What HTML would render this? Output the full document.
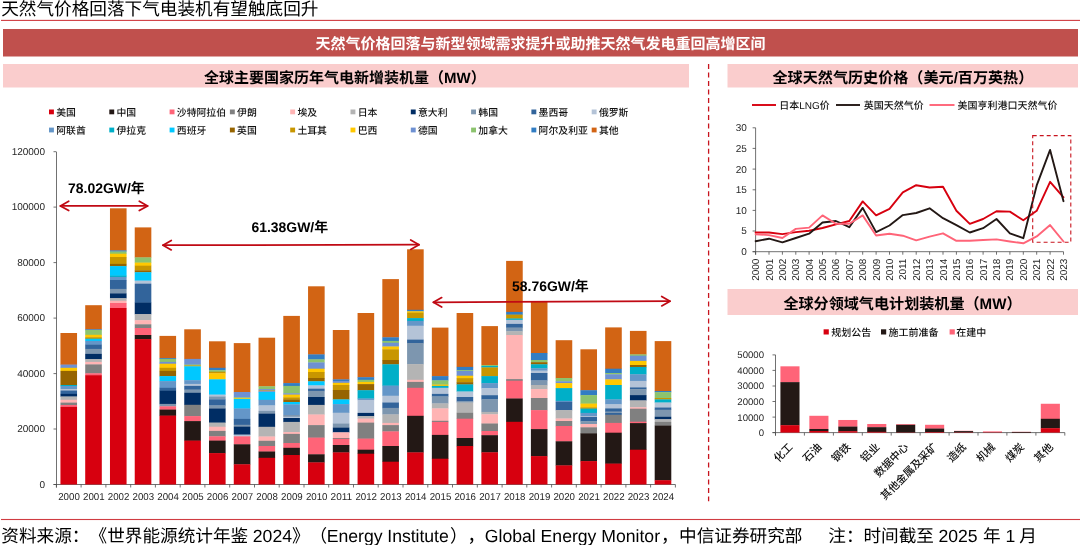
<!DOCTYPE html>
<html lang="zh"><head><meta charset="utf-8"><title>天然气价格回落下气电装机有望触底回升</title>
<style>html,body{margin:0;padding:0;background:#fff;width:1080px;height:545px;overflow:hidden}</style>
</head><body>
<svg width="1080" height="545" viewBox="0 0 1080 545" style="position:absolute;left:0;top:0;display:block;will-change:transform" text-rendering="geometricPrecision" font-family="Liberation Sans, Noto Sans CJK SC, sans-serif">
<rect x="1" y="19.85" width="1079" height="1.1" fill="#D03C42"/>
<rect x="3" y="29" width="1075" height="27.5" fill="#C0504D"/>
<rect x="3" y="64" width="686" height="23.5" fill="#FACDCD"/>
<rect x="727.5" y="64" width="350.5" height="23.5" fill="#FACDCD"/>
<rect x="727.5" y="289" width="350.5" height="26" fill="#FACDCD"/>
<rect x="1" y="518.95" width="1079" height="1.1" fill="#D03C42"/>
<line x1="708.6" y1="64.1" x2="708.6" y2="501.3" stroke="#C8141E" stroke-width="1.3" stroke-dasharray="5 3.476"/>
<text x="1.2" y="15" font-size="17.64" fill="#000">天然气价格回落下气电装机有望触底回升</text>
<text x="540.5" y="49.4" font-size="15" font-weight="bold" fill="#fff" text-anchor="middle">天然气价格回落与新型领域需求提升或助推天然气发电重回高增区间</text>
<text x="344.9" y="83" font-size="15" font-weight="bold" fill="#000" text-anchor="middle">全球主要国家历年气电新增装机量（MW）</text>
<text x="902.9" y="83" font-size="15.1" font-weight="bold" fill="#000" text-anchor="middle">全球天然气历史价格（美元/百万英热）</text>
<text x="902.45" y="308.6" font-size="15.1" font-weight="bold" fill="#000" text-anchor="middle">全球分领域气电计划装机量（MW）</text>
<g font-size="17.64" fill="#000" style="text-spacing-trim:space-all">
<text x="1.3" y="541.9">资料来源：</text>
<text x="89.5" y="541.9">《世界能源统计年鉴</text>
<text x="252.8" y="541.9">2024</text>
<text x="292.0" y="541.9">》</text>
<text x="309.4" y="541.9">（</text>
<text x="326.8" y="541.9" textLength="122">Energy Institute</text>
<text x="450.0" y="541.9">）</text>
<text x="467.4" y="541.9">，</text>
<text x="484.8" y="541.9" textLength="175.2">Global Energy Monitor</text>
<text x="661.0" y="541.9">，</text>
<text x="679.0" y="541.9">中信证券研究部</text>
<text x="828.3" y="541.9">注：</text>
<text x="863.4" y="541.9">时间截至</text>
<text x="938.4" y="541.9">2025</text>
<text x="983.0" y="541.9">年</text>
<text x="1005.5" y="541.9">1</text>
<text x="1019.3" y="541.9">月</text>
</g>
<rect x="49.0" y="109.5" width="4.9" height="4.8" fill="#D7000F"/>
<text x="56.2" y="115.6" font-size="9.85" font-weight="500" fill="#111">美国</text>
<rect x="109.3" y="109.5" width="4.9" height="4.8" fill="#231815"/>
<text x="116.5" y="115.6" font-size="9.85" font-weight="500" fill="#111">中国</text>
<rect x="169.6" y="109.5" width="4.9" height="4.8" fill="#FF6478"/>
<text x="176.8" y="115.6" font-size="9.85" font-weight="500" fill="#111">沙特阿拉伯</text>
<rect x="229.9" y="109.5" width="4.9" height="4.8" fill="#808080"/>
<text x="237.1" y="115.6" font-size="9.85" font-weight="500" fill="#111">伊朗</text>
<rect x="290.2" y="109.5" width="4.9" height="4.8" fill="#FFB4B4"/>
<text x="297.4" y="115.6" font-size="9.85" font-weight="500" fill="#111">埃及</text>
<rect x="350.5" y="109.5" width="4.9" height="4.8" fill="#B4B4B4"/>
<text x="357.7" y="115.6" font-size="9.85" font-weight="500" fill="#111">日本</text>
<rect x="410.8" y="109.5" width="4.9" height="4.8" fill="#002D64"/>
<text x="418.0" y="115.6" font-size="9.85" font-weight="500" fill="#111">意大利</text>
<rect x="471.1" y="109.5" width="4.9" height="4.8" fill="#7D96AF"/>
<text x="478.3" y="115.6" font-size="9.85" font-weight="500" fill="#111">韩国</text>
<rect x="531.4" y="109.5" width="4.9" height="4.8" fill="#32649B"/>
<text x="538.6" y="115.6" font-size="9.85" font-weight="500" fill="#111">墨西哥</text>
<rect x="591.7" y="109.5" width="4.9" height="4.8" fill="#B4C3D7"/>
<text x="598.9" y="115.6" font-size="9.85" font-weight="500" fill="#111">俄罗斯</text>
<rect x="49.0" y="127.6" width="4.9" height="4.8" fill="#6496C8"/>
<text x="56.2" y="133.7" font-size="9.85" font-weight="500" fill="#111">阿联酋</text>
<rect x="109.3" y="127.6" width="4.9" height="4.8" fill="#00AFC8"/>
<text x="116.5" y="133.7" font-size="9.85" font-weight="500" fill="#111">伊拉克</text>
<rect x="169.6" y="127.6" width="4.9" height="4.8" fill="#00C8FF"/>
<text x="176.8" y="133.7" font-size="9.85" font-weight="500" fill="#111">西班牙</text>
<rect x="229.9" y="127.6" width="4.9" height="4.8" fill="#966400"/>
<text x="237.1" y="133.7" font-size="9.85" font-weight="500" fill="#111">英国</text>
<rect x="290.2" y="127.6" width="4.9" height="4.8" fill="#C89600"/>
<text x="297.4" y="133.7" font-size="9.85" font-weight="500" fill="#111">土耳其</text>
<rect x="350.5" y="127.6" width="4.9" height="4.8" fill="#FFC800"/>
<text x="357.7" y="133.7" font-size="9.85" font-weight="500" fill="#111">巴西</text>
<rect x="410.8" y="127.6" width="4.9" height="4.8" fill="#6E91D2"/>
<text x="418.0" y="133.7" font-size="9.85" font-weight="500" fill="#111">德国</text>
<rect x="471.1" y="127.6" width="4.9" height="4.8" fill="#8CC36E"/>
<text x="478.3" y="133.7" font-size="9.85" font-weight="500" fill="#111">加拿大</text>
<rect x="531.4" y="127.6" width="4.9" height="4.8" fill="#327DC3"/>
<text x="538.6" y="133.7" font-size="9.85" font-weight="500" fill="#111">阿尔及利亚</text>
<rect x="591.7" y="127.6" width="4.9" height="4.8" fill="#D26414"/>
<text x="598.9" y="133.7" font-size="9.85" font-weight="500" fill="#111">其他</text>
<g stroke="#4d4d4d" stroke-width="0.8" fill="none">
<line x1="56.5" y1="152" x2="56.5" y2="487.5"/>
<line x1="53.5" y1="484.5" x2="675.4" y2="484.5"/>
<line x1="53.5" y1="484.5" x2="56.5" y2="484.5"/>
<line x1="53.5" y1="429.0" x2="56.5" y2="429.0"/>
<line x1="53.5" y1="373.6" x2="56.5" y2="373.6"/>
<line x1="53.5" y1="318.1" x2="56.5" y2="318.1"/>
<line x1="53.5" y1="262.6" x2="56.5" y2="262.6"/>
<line x1="53.5" y1="207.1" x2="56.5" y2="207.1"/>
<line x1="53.5" y1="151.7" x2="56.5" y2="151.7"/>
<line x1="56.4" y1="484.5" x2="56.4" y2="487.5"/>
<line x1="81.1" y1="484.5" x2="81.1" y2="487.5"/>
<line x1="105.9" y1="484.5" x2="105.9" y2="487.5"/>
<line x1="130.7" y1="484.5" x2="130.7" y2="487.5"/>
<line x1="155.4" y1="484.5" x2="155.4" y2="487.5"/>
<line x1="180.2" y1="484.5" x2="180.2" y2="487.5"/>
<line x1="204.9" y1="484.5" x2="204.9" y2="487.5"/>
<line x1="229.7" y1="484.5" x2="229.7" y2="487.5"/>
<line x1="254.5" y1="484.5" x2="254.5" y2="487.5"/>
<line x1="279.2" y1="484.5" x2="279.2" y2="487.5"/>
<line x1="304.0" y1="484.5" x2="304.0" y2="487.5"/>
<line x1="328.7" y1="484.5" x2="328.7" y2="487.5"/>
<line x1="353.5" y1="484.5" x2="353.5" y2="487.5"/>
<line x1="378.2" y1="484.5" x2="378.2" y2="487.5"/>
<line x1="403.0" y1="484.5" x2="403.0" y2="487.5"/>
<line x1="427.8" y1="484.5" x2="427.8" y2="487.5"/>
<line x1="452.5" y1="484.5" x2="452.5" y2="487.5"/>
<line x1="477.3" y1="484.5" x2="477.3" y2="487.5"/>
<line x1="502.1" y1="484.5" x2="502.1" y2="487.5"/>
<line x1="526.8" y1="484.5" x2="526.8" y2="487.5"/>
<line x1="551.6" y1="484.5" x2="551.6" y2="487.5"/>
<line x1="576.3" y1="484.5" x2="576.3" y2="487.5"/>
<line x1="601.1" y1="484.5" x2="601.1" y2="487.5"/>
<line x1="625.9" y1="484.5" x2="625.9" y2="487.5"/>
<line x1="650.6" y1="484.5" x2="650.6" y2="487.5"/>
<line x1="675.4" y1="484.5" x2="675.4" y2="487.5"/>
</g>
<g font-size="10" fill="#262626">
<text x="45" y="487.5" text-anchor="end">0</text>
<text x="45" y="432.0" text-anchor="end">20000</text>
<text x="45" y="376.6" text-anchor="end">40000</text>
<text x="45" y="321.1" text-anchor="end">60000</text>
<text x="45" y="265.6" text-anchor="end">80000</text>
<text x="45" y="210.1" text-anchor="end">100000</text>
<text x="45" y="154.7" text-anchor="end">120000</text>
<text x="69.0" y="500.4" text-anchor="middle" textLength="21.6" lengthAdjust="spacingAndGlyphs">2000</text>
<text x="93.8" y="500.4" text-anchor="middle" textLength="21.6" lengthAdjust="spacingAndGlyphs">2001</text>
<text x="118.6" y="500.4" text-anchor="middle" textLength="21.6" lengthAdjust="spacingAndGlyphs">2002</text>
<text x="143.3" y="500.4" text-anchor="middle" textLength="21.6" lengthAdjust="spacingAndGlyphs">2003</text>
<text x="168.1" y="500.4" text-anchor="middle" textLength="21.6" lengthAdjust="spacingAndGlyphs">2004</text>
<text x="192.9" y="500.4" text-anchor="middle" textLength="21.6" lengthAdjust="spacingAndGlyphs">2005</text>
<text x="217.6" y="500.4" text-anchor="middle" textLength="21.6" lengthAdjust="spacingAndGlyphs">2006</text>
<text x="242.4" y="500.4" text-anchor="middle" textLength="21.6" lengthAdjust="spacingAndGlyphs">2007</text>
<text x="267.1" y="500.4" text-anchor="middle" textLength="21.6" lengthAdjust="spacingAndGlyphs">2008</text>
<text x="291.9" y="500.4" text-anchor="middle" textLength="21.6" lengthAdjust="spacingAndGlyphs">2009</text>
<text x="316.7" y="500.4" text-anchor="middle" textLength="21.6" lengthAdjust="spacingAndGlyphs">2010</text>
<text x="341.4" y="500.4" text-anchor="middle" textLength="21.6" lengthAdjust="spacingAndGlyphs">2011</text>
<text x="366.2" y="500.4" text-anchor="middle" textLength="21.6" lengthAdjust="spacingAndGlyphs">2012</text>
<text x="390.9" y="500.4" text-anchor="middle" textLength="21.6" lengthAdjust="spacingAndGlyphs">2013</text>
<text x="415.7" y="500.4" text-anchor="middle" textLength="21.6" lengthAdjust="spacingAndGlyphs">2014</text>
<text x="440.5" y="500.4" text-anchor="middle" textLength="21.6" lengthAdjust="spacingAndGlyphs">2015</text>
<text x="465.2" y="500.4" text-anchor="middle" textLength="21.6" lengthAdjust="spacingAndGlyphs">2016</text>
<text x="490.0" y="500.4" text-anchor="middle" textLength="21.6" lengthAdjust="spacingAndGlyphs">2017</text>
<text x="514.7" y="500.4" text-anchor="middle" textLength="21.6" lengthAdjust="spacingAndGlyphs">2018</text>
<text x="539.5" y="500.4" text-anchor="middle" textLength="21.6" lengthAdjust="spacingAndGlyphs">2019</text>
<text x="564.2" y="500.4" text-anchor="middle" textLength="21.6" lengthAdjust="spacingAndGlyphs">2020</text>
<text x="589.0" y="500.4" text-anchor="middle" textLength="21.6" lengthAdjust="spacingAndGlyphs">2021</text>
<text x="613.8" y="500.4" text-anchor="middle" textLength="21.6" lengthAdjust="spacingAndGlyphs">2022</text>
<text x="638.5" y="500.4" text-anchor="middle" textLength="21.6" lengthAdjust="spacingAndGlyphs">2023</text>
<text x="663.3" y="500.4" text-anchor="middle" textLength="21.6" lengthAdjust="spacingAndGlyphs">2024</text>
</g>
<g shape-rendering="auto">
<rect x="60.45" y="333.00" width="16.60" height="31.90" fill="#D26414"/>
<rect x="60.45" y="364.60" width="16.60" height="3.50" fill="#6E91D2"/>
<rect x="60.45" y="367.80" width="16.60" height="3.40" fill="#FFC800"/>
<rect x="60.45" y="370.90" width="16.60" height="14.40" fill="#966400"/>
<rect x="60.45" y="385.00" width="16.60" height="1.30" fill="#00AFC8"/>
<rect x="60.45" y="386.00" width="16.60" height="3.30" fill="#6496C8"/>
<rect x="60.45" y="389.00" width="16.60" height="1.80" fill="#B4C3D7"/>
<rect x="60.45" y="390.50" width="16.60" height="3.70" fill="#32649B"/>
<rect x="60.45" y="393.90" width="16.60" height="2.90" fill="#002D64"/>
<rect x="60.45" y="396.50" width="16.60" height="3.60" fill="#B4B4B4"/>
<rect x="60.45" y="399.80" width="16.60" height="3.10" fill="#FFB4B4"/>
<rect x="60.45" y="402.60" width="16.60" height="2.70" fill="#808080"/>
<rect x="60.45" y="405.00" width="16.60" height="2.20" fill="#FF6478"/>
<rect x="60.45" y="406.90" width="16.60" height="77.60" fill="#D7000F"/>
<rect x="85.21" y="305.20" width="16.60" height="24.40" fill="#D26414"/>
<rect x="85.21" y="329.30" width="16.60" height="1.00" fill="#327DC3"/>
<rect x="85.21" y="330.00" width="16.60" height="5.10" fill="#8CC36E"/>
<rect x="85.21" y="334.80" width="16.60" height="2.70" fill="#FFC800"/>
<rect x="85.21" y="337.20" width="16.60" height="1.80" fill="#C89600"/>
<rect x="85.21" y="338.70" width="16.60" height="2.50" fill="#00C8FF"/>
<rect x="85.21" y="340.90" width="16.60" height="4.00" fill="#6496C8"/>
<rect x="85.21" y="344.60" width="16.60" height="4.60" fill="#32649B"/>
<rect x="85.21" y="348.90" width="16.60" height="5.30" fill="#7D96AF"/>
<rect x="85.21" y="353.90" width="16.60" height="5.50" fill="#002D64"/>
<rect x="85.21" y="359.10" width="16.60" height="3.10" fill="#B4B4B4"/>
<rect x="85.21" y="361.90" width="16.60" height="2.80" fill="#FFB4B4"/>
<rect x="85.21" y="364.40" width="16.60" height="9.20" fill="#808080"/>
<rect x="85.21" y="373.30" width="16.60" height="2.20" fill="#FF6478"/>
<rect x="85.21" y="375.20" width="16.60" height="109.30" fill="#D7000F"/>
<rect x="109.97" y="208.30" width="16.60" height="42.40" fill="#D26414"/>
<rect x="109.97" y="250.40" width="16.60" height="1.40" fill="#327DC3"/>
<rect x="109.97" y="251.50" width="16.60" height="2.50" fill="#8CC36E"/>
<rect x="109.97" y="253.70" width="16.60" height="3.60" fill="#FFC800"/>
<rect x="109.97" y="257.00" width="16.60" height="7.20" fill="#C89600"/>
<rect x="109.97" y="263.90" width="16.60" height="2.50" fill="#966400"/>
<rect x="109.97" y="266.10" width="16.60" height="9.80" fill="#00C8FF"/>
<rect x="109.97" y="275.60" width="16.60" height="1.60" fill="#00AFC8"/>
<rect x="109.97" y="276.90" width="16.60" height="3.40" fill="#6496C8"/>
<rect x="109.97" y="280.00" width="16.60" height="9.20" fill="#32649B"/>
<rect x="109.97" y="288.90" width="16.60" height="4.80" fill="#7D96AF"/>
<rect x="109.97" y="293.40" width="16.60" height="5.10" fill="#002D64"/>
<rect x="109.97" y="298.20" width="16.60" height="2.80" fill="#B4B4B4"/>
<rect x="109.97" y="300.70" width="16.60" height="2.60" fill="#FFB4B4"/>
<rect x="109.97" y="303.00" width="16.60" height="5.30" fill="#FF6478"/>
<rect x="109.97" y="308.00" width="16.60" height="176.50" fill="#D7000F"/>
<rect x="134.73" y="227.40" width="16.60" height="30.30" fill="#D26414"/>
<rect x="134.73" y="257.40" width="16.60" height="5.50" fill="#8CC36E"/>
<rect x="134.73" y="262.60" width="16.60" height="3.40" fill="#FFC800"/>
<rect x="134.73" y="265.70" width="16.60" height="5.00" fill="#C89600"/>
<rect x="134.73" y="270.40" width="16.60" height="2.10" fill="#966400"/>
<rect x="134.73" y="272.20" width="16.60" height="8.70" fill="#00C8FF"/>
<rect x="134.73" y="280.60" width="16.60" height="3.40" fill="#B4C3D7"/>
<rect x="134.73" y="283.70" width="16.60" height="19.20" fill="#32649B"/>
<rect x="134.73" y="302.60" width="16.60" height="11.80" fill="#002D64"/>
<rect x="134.73" y="314.10" width="16.60" height="6.40" fill="#B4B4B4"/>
<rect x="134.73" y="320.20" width="16.60" height="4.40" fill="#FFB4B4"/>
<rect x="134.73" y="324.30" width="16.60" height="4.00" fill="#808080"/>
<rect x="134.73" y="328.00" width="16.60" height="7.30" fill="#FF6478"/>
<rect x="134.73" y="335.00" width="16.60" height="4.40" fill="#231815"/>
<rect x="134.73" y="339.10" width="16.60" height="145.40" fill="#D7000F"/>
<rect x="159.49" y="335.90" width="16.60" height="22.50" fill="#D26414"/>
<rect x="159.49" y="358.10" width="16.60" height="1.10" fill="#327DC3"/>
<rect x="159.49" y="358.90" width="16.60" height="3.30" fill="#8CC36E"/>
<rect x="159.49" y="361.90" width="16.60" height="2.10" fill="#6E91D2"/>
<rect x="159.49" y="363.70" width="16.60" height="4.40" fill="#FFC800"/>
<rect x="159.49" y="367.80" width="16.60" height="3.40" fill="#C89600"/>
<rect x="159.49" y="370.90" width="16.60" height="5.50" fill="#966400"/>
<rect x="159.49" y="376.10" width="16.60" height="5.30" fill="#00C8FF"/>
<rect x="159.49" y="381.10" width="16.60" height="7.00" fill="#6496C8"/>
<rect x="159.49" y="387.80" width="16.60" height="3.10" fill="#32649B"/>
<rect x="159.49" y="390.60" width="16.60" height="13.60" fill="#002D64"/>
<rect x="159.49" y="403.90" width="16.60" height="2.70" fill="#7D96AF"/>
<rect x="159.49" y="406.30" width="16.60" height="3.60" fill="#FF6478"/>
<rect x="159.49" y="409.60" width="16.60" height="6.30" fill="#231815"/>
<rect x="159.49" y="415.60" width="16.60" height="68.90" fill="#D7000F"/>
<rect x="184.25" y="329.30" width="16.60" height="29.90" fill="#D26414"/>
<rect x="184.25" y="358.90" width="16.60" height="6.00" fill="#6E91D2"/>
<rect x="184.25" y="364.60" width="16.60" height="1.20" fill="#8CC36E"/>
<rect x="184.25" y="365.50" width="16.60" height="1.10" fill="#C89600"/>
<rect x="184.25" y="366.30" width="16.60" height="14.20" fill="#00C8FF"/>
<rect x="184.25" y="380.20" width="16.60" height="4.00" fill="#6496C8"/>
<rect x="184.25" y="383.90" width="16.60" height="2.30" fill="#B4C3D7"/>
<rect x="184.25" y="385.90" width="16.60" height="4.00" fill="#32649B"/>
<rect x="184.25" y="389.60" width="16.60" height="3.50" fill="#7D96AF"/>
<rect x="184.25" y="392.80" width="16.60" height="12.30" fill="#002D64"/>
<rect x="184.25" y="404.80" width="16.60" height="11.60" fill="#808080"/>
<rect x="184.25" y="416.10" width="16.60" height="5.30" fill="#FF6478"/>
<rect x="184.25" y="421.10" width="16.60" height="19.80" fill="#231815"/>
<rect x="184.25" y="440.60" width="16.60" height="43.90" fill="#D7000F"/>
<rect x="209.01" y="341.30" width="16.60" height="26.80" fill="#D26414"/>
<rect x="209.01" y="367.80" width="16.60" height="2.70" fill="#327DC3"/>
<rect x="209.01" y="370.20" width="16.60" height="1.80" fill="#8CC36E"/>
<rect x="209.01" y="371.70" width="16.60" height="1.90" fill="#C89600"/>
<rect x="209.01" y="373.30" width="16.60" height="6.30" fill="#FFC800"/>
<rect x="209.01" y="379.30" width="16.60" height="15.60" fill="#00C8FF"/>
<rect x="209.01" y="394.60" width="16.60" height="2.20" fill="#B4C3D7"/>
<rect x="209.01" y="396.50" width="16.60" height="3.20" fill="#7D96AF"/>
<rect x="209.01" y="399.40" width="16.60" height="6.30" fill="#32649B"/>
<rect x="209.01" y="405.40" width="16.60" height="3.40" fill="#7D96AF"/>
<rect x="209.01" y="408.50" width="16.60" height="14.40" fill="#002D64"/>
<rect x="209.01" y="422.60" width="16.60" height="4.40" fill="#B4B4B4"/>
<rect x="209.01" y="426.70" width="16.60" height="4.50" fill="#FFB4B4"/>
<rect x="209.01" y="430.90" width="16.60" height="5.70" fill="#808080"/>
<rect x="209.01" y="436.30" width="16.60" height="4.60" fill="#FF6478"/>
<rect x="209.01" y="440.60" width="16.60" height="12.80" fill="#231815"/>
<rect x="209.01" y="453.10" width="16.60" height="31.40" fill="#D7000F"/>
<rect x="233.77" y="343.10" width="16.60" height="49.20" fill="#D26414"/>
<rect x="233.77" y="392.00" width="16.60" height="5.70" fill="#6E91D2"/>
<rect x="233.77" y="397.40" width="16.60" height="1.10" fill="#8CC36E"/>
<rect x="233.77" y="398.20" width="16.60" height="1.00" fill="#FFC800"/>
<rect x="233.77" y="398.90" width="16.60" height="9.90" fill="#00C8FF"/>
<rect x="233.77" y="408.50" width="16.60" height="10.70" fill="#6496C8"/>
<rect x="233.77" y="418.90" width="16.60" height="6.20" fill="#32649B"/>
<rect x="233.77" y="424.80" width="16.60" height="2.20" fill="#7D96AF"/>
<rect x="233.77" y="426.70" width="16.60" height="8.20" fill="#002D64"/>
<rect x="233.77" y="434.60" width="16.60" height="2.00" fill="#B4C3D7"/>
<rect x="233.77" y="436.30" width="16.60" height="8.30" fill="#FF6478"/>
<rect x="233.77" y="444.30" width="16.60" height="20.30" fill="#231815"/>
<rect x="233.77" y="464.30" width="16.60" height="20.20" fill="#D7000F"/>
<rect x="258.53" y="337.70" width="16.60" height="48.90" fill="#D26414"/>
<rect x="258.53" y="386.30" width="16.60" height="3.10" fill="#8CC36E"/>
<rect x="258.53" y="389.10" width="16.60" height="1.70" fill="#6E91D2"/>
<rect x="258.53" y="390.50" width="16.60" height="1.00" fill="#C89600"/>
<rect x="258.53" y="391.20" width="16.60" height="1.10" fill="#6E91D2"/>
<rect x="258.53" y="392.00" width="16.60" height="8.10" fill="#00C8FF"/>
<rect x="258.53" y="399.80" width="16.60" height="5.90" fill="#6496C8"/>
<rect x="258.53" y="405.40" width="16.60" height="5.80" fill="#B4C3D7"/>
<rect x="258.53" y="410.90" width="16.60" height="3.10" fill="#7D96AF"/>
<rect x="258.53" y="413.70" width="16.60" height="13.40" fill="#002D64"/>
<rect x="258.53" y="426.80" width="16.60" height="10.00" fill="#B4B4B4"/>
<rect x="258.53" y="436.50" width="16.60" height="4.60" fill="#FFB4B4"/>
<rect x="258.53" y="440.80" width="16.60" height="5.50" fill="#808080"/>
<rect x="258.53" y="446.00" width="16.60" height="5.80" fill="#FF6478"/>
<rect x="258.53" y="451.50" width="16.60" height="6.60" fill="#231815"/>
<rect x="258.53" y="457.80" width="16.60" height="26.70" fill="#D7000F"/>
<rect x="283.29" y="315.90" width="16.60" height="67.50" fill="#D26414"/>
<rect x="283.29" y="383.10" width="16.60" height="3.10" fill="#327DC3"/>
<rect x="283.29" y="385.90" width="16.60" height="7.70" fill="#8CC36E"/>
<rect x="283.29" y="393.30" width="16.60" height="1.60" fill="#6E91D2"/>
<rect x="283.29" y="394.60" width="16.60" height="3.10" fill="#FFC800"/>
<rect x="283.29" y="397.40" width="16.60" height="2.40" fill="#C89600"/>
<rect x="283.29" y="399.50" width="16.60" height="2.80" fill="#966400"/>
<rect x="283.29" y="402.00" width="16.60" height="2.70" fill="#00C8FF"/>
<rect x="283.29" y="404.40" width="16.60" height="10.90" fill="#6496C8"/>
<rect x="283.29" y="415.00" width="16.60" height="2.00" fill="#7D96AF"/>
<rect x="283.29" y="416.70" width="16.60" height="1.60" fill="#B4C3D7"/>
<rect x="283.29" y="418.00" width="16.60" height="4.20" fill="#002D64"/>
<rect x="283.29" y="421.90" width="16.60" height="10.50" fill="#B4B4B4"/>
<rect x="283.29" y="432.10" width="16.60" height="2.10" fill="#FFB4B4"/>
<rect x="283.29" y="433.90" width="16.60" height="9.40" fill="#808080"/>
<rect x="283.29" y="443.00" width="16.60" height="5.10" fill="#FF6478"/>
<rect x="283.29" y="447.80" width="16.60" height="7.50" fill="#231815"/>
<rect x="283.29" y="455.00" width="16.60" height="29.50" fill="#D7000F"/>
<rect x="308.05" y="286.30" width="16.60" height="68.40" fill="#D26414"/>
<rect x="308.05" y="354.40" width="16.60" height="5.30" fill="#327DC3"/>
<rect x="308.05" y="359.40" width="16.60" height="3.30" fill="#8CC36E"/>
<rect x="308.05" y="362.40" width="16.60" height="6.60" fill="#6E91D2"/>
<rect x="308.05" y="368.70" width="16.60" height="3.60" fill="#FFC800"/>
<rect x="308.05" y="372.00" width="16.60" height="6.30" fill="#C89600"/>
<rect x="308.05" y="378.00" width="16.60" height="3.60" fill="#966400"/>
<rect x="308.05" y="381.30" width="16.60" height="4.40" fill="#00C8FF"/>
<rect x="308.05" y="385.40" width="16.60" height="3.60" fill="#B4C3D7"/>
<rect x="308.05" y="388.70" width="16.60" height="2.50" fill="#32649B"/>
<rect x="308.05" y="390.90" width="16.60" height="6.40" fill="#7D96AF"/>
<rect x="308.05" y="397.00" width="16.60" height="8.20" fill="#002D64"/>
<rect x="308.05" y="404.90" width="16.60" height="9.90" fill="#B4B4B4"/>
<rect x="308.05" y="414.50" width="16.60" height="10.90" fill="#FFB4B4"/>
<rect x="308.05" y="425.10" width="16.60" height="12.80" fill="#808080"/>
<rect x="308.05" y="437.60" width="16.60" height="17.00" fill="#FF6478"/>
<rect x="308.05" y="454.30" width="16.60" height="8.40" fill="#231815"/>
<rect x="308.05" y="462.40" width="16.60" height="22.10" fill="#D7000F"/>
<rect x="332.81" y="330.00" width="16.60" height="49.70" fill="#D26414"/>
<rect x="332.81" y="379.40" width="16.60" height="1.90" fill="#327DC3"/>
<rect x="332.81" y="381.00" width="16.60" height="2.10" fill="#6E91D2"/>
<rect x="332.81" y="382.80" width="16.60" height="2.50" fill="#FFC800"/>
<rect x="332.81" y="385.00" width="16.60" height="5.30" fill="#C89600"/>
<rect x="332.81" y="390.00" width="16.60" height="9.70" fill="#966400"/>
<rect x="332.81" y="399.40" width="16.60" height="5.00" fill="#00C8FF"/>
<rect x="332.81" y="404.10" width="16.60" height="8.90" fill="#6496C8"/>
<rect x="332.81" y="412.70" width="16.60" height="11.10" fill="#B4C3D7"/>
<rect x="332.81" y="423.50" width="16.60" height="4.50" fill="#7D96AF"/>
<rect x="332.81" y="427.70" width="16.60" height="4.90" fill="#002D64"/>
<rect x="332.81" y="432.30" width="16.60" height="6.00" fill="#FFB4B4"/>
<rect x="332.81" y="438.00" width="16.60" height="1.10" fill="#808080"/>
<rect x="332.81" y="438.80" width="16.60" height="6.50" fill="#FF6478"/>
<rect x="332.81" y="445.00" width="16.60" height="7.70" fill="#231815"/>
<rect x="332.81" y="452.40" width="16.60" height="32.10" fill="#D7000F"/>
<rect x="357.57" y="313.00" width="16.60" height="64.50" fill="#D26414"/>
<rect x="357.57" y="377.20" width="16.60" height="2.90" fill="#327DC3"/>
<rect x="357.57" y="379.80" width="16.60" height="2.40" fill="#8CC36E"/>
<rect x="357.57" y="381.90" width="16.60" height="2.50" fill="#FFC800"/>
<rect x="357.57" y="384.10" width="16.60" height="6.40" fill="#966400"/>
<rect x="357.57" y="390.20" width="16.60" height="8.60" fill="#00AFC8"/>
<rect x="357.57" y="398.50" width="16.60" height="1.70" fill="#6496C8"/>
<rect x="357.57" y="399.90" width="16.60" height="13.30" fill="#B4C3D7"/>
<rect x="357.57" y="412.90" width="16.60" height="3.40" fill="#002D64"/>
<rect x="357.57" y="416.00" width="16.60" height="2.90" fill="#B4B4B4"/>
<rect x="357.57" y="418.60" width="16.60" height="4.30" fill="#FFB4B4"/>
<rect x="357.57" y="422.60" width="16.60" height="16.30" fill="#808080"/>
<rect x="357.57" y="438.60" width="16.60" height="11.40" fill="#FF6478"/>
<rect x="357.57" y="449.70" width="16.60" height="4.30" fill="#231815"/>
<rect x="357.57" y="453.70" width="16.60" height="30.80" fill="#D7000F"/>
<rect x="382.33" y="279.10" width="16.60" height="58.50" fill="#D26414"/>
<rect x="382.33" y="337.30" width="16.60" height="3.90" fill="#327DC3"/>
<rect x="382.33" y="340.90" width="16.60" height="2.20" fill="#8CC36E"/>
<rect x="382.33" y="342.80" width="16.60" height="4.00" fill="#6E91D2"/>
<rect x="382.33" y="346.50" width="16.60" height="3.10" fill="#FFC800"/>
<rect x="382.33" y="349.30" width="16.60" height="11.00" fill="#C89600"/>
<rect x="382.33" y="360.00" width="16.60" height="4.60" fill="#966400"/>
<rect x="382.33" y="364.30" width="16.60" height="21.60" fill="#00AFC8"/>
<rect x="382.33" y="385.60" width="16.60" height="10.40" fill="#6496C8"/>
<rect x="382.33" y="395.70" width="16.60" height="7.10" fill="#B4C3D7"/>
<rect x="382.33" y="402.50" width="16.60" height="5.70" fill="#32649B"/>
<rect x="382.33" y="407.90" width="16.60" height="6.80" fill="#7D96AF"/>
<rect x="382.33" y="414.40" width="16.60" height="8.80" fill="#B4B4B4"/>
<rect x="382.33" y="422.90" width="16.60" height="2.50" fill="#FFB4B4"/>
<rect x="382.33" y="425.10" width="16.60" height="6.60" fill="#808080"/>
<rect x="382.33" y="431.40" width="16.60" height="14.90" fill="#FF6478"/>
<rect x="382.33" y="446.00" width="16.60" height="16.00" fill="#231815"/>
<rect x="382.33" y="461.70" width="16.60" height="22.80" fill="#D7000F"/>
<rect x="407.09" y="249.30" width="16.60" height="60.80" fill="#D26414"/>
<rect x="407.09" y="309.80" width="16.60" height="1.80" fill="#327DC3"/>
<rect x="407.09" y="311.30" width="16.60" height="1.60" fill="#FFC800"/>
<rect x="407.09" y="312.60" width="16.60" height="5.80" fill="#C89600"/>
<rect x="407.09" y="318.10" width="16.60" height="3.10" fill="#00AFC8"/>
<rect x="407.09" y="320.90" width="16.60" height="5.10" fill="#6496C8"/>
<rect x="407.09" y="325.70" width="16.60" height="14.20" fill="#B4C3D7"/>
<rect x="407.09" y="339.60" width="16.60" height="3.70" fill="#32649B"/>
<rect x="407.09" y="343.00" width="16.60" height="21.40" fill="#7D96AF"/>
<rect x="407.09" y="364.10" width="16.60" height="16.00" fill="#B4B4B4"/>
<rect x="407.09" y="379.80" width="16.60" height="2.40" fill="#FFB4B4"/>
<rect x="407.09" y="381.90" width="16.60" height="6.20" fill="#808080"/>
<rect x="407.09" y="387.80" width="16.60" height="28.30" fill="#FF6478"/>
<rect x="407.09" y="415.80" width="16.60" height="36.90" fill="#231815"/>
<rect x="407.09" y="452.40" width="16.60" height="32.10" fill="#D7000F"/>
<rect x="431.85" y="327.60" width="16.60" height="48.80" fill="#D26414"/>
<rect x="431.85" y="376.10" width="16.60" height="4.60" fill="#327DC3"/>
<rect x="431.85" y="380.40" width="16.60" height="4.50" fill="#8CC36E"/>
<rect x="431.85" y="384.60" width="16.60" height="1.60" fill="#FFC800"/>
<rect x="431.85" y="385.90" width="16.60" height="2.20" fill="#00AFC8"/>
<rect x="431.85" y="387.80" width="16.60" height="6.40" fill="#B4C3D7"/>
<rect x="431.85" y="393.90" width="16.60" height="2.80" fill="#32649B"/>
<rect x="431.85" y="396.40" width="16.60" height="7.30" fill="#7D96AF"/>
<rect x="431.85" y="403.40" width="16.60" height="5.30" fill="#B4B4B4"/>
<rect x="431.85" y="408.40" width="16.60" height="12.70" fill="#FFB4B4"/>
<rect x="431.85" y="420.80" width="16.60" height="1.40" fill="#808080"/>
<rect x="431.85" y="421.90" width="16.60" height="13.30" fill="#FF6478"/>
<rect x="431.85" y="434.90" width="16.60" height="24.10" fill="#231815"/>
<rect x="431.85" y="458.70" width="16.60" height="25.80" fill="#D7000F"/>
<rect x="456.61" y="313.00" width="16.60" height="54.20" fill="#D26414"/>
<rect x="456.61" y="366.90" width="16.60" height="3.60" fill="#327DC3"/>
<rect x="456.61" y="370.20" width="16.60" height="1.10" fill="#8CC36E"/>
<rect x="456.61" y="371.00" width="16.60" height="5.00" fill="#6E91D2"/>
<rect x="456.61" y="375.70" width="16.60" height="2.70" fill="#FFC800"/>
<rect x="456.61" y="378.10" width="16.60" height="4.40" fill="#C89600"/>
<rect x="456.61" y="382.20" width="16.60" height="2.50" fill="#966400"/>
<rect x="456.61" y="384.40" width="16.60" height="7.40" fill="#00AFC8"/>
<rect x="456.61" y="391.50" width="16.60" height="5.80" fill="#B4C3D7"/>
<rect x="456.61" y="397.00" width="16.60" height="4.60" fill="#32649B"/>
<rect x="456.61" y="401.30" width="16.60" height="1.50" fill="#7D96AF"/>
<rect x="456.61" y="402.50" width="16.60" height="10.60" fill="#B4B4B4"/>
<rect x="456.61" y="412.80" width="16.60" height="6.20" fill="#808080"/>
<rect x="456.61" y="418.70" width="16.60" height="19.60" fill="#FF6478"/>
<rect x="456.61" y="438.00" width="16.60" height="8.30" fill="#231815"/>
<rect x="456.61" y="446.00" width="16.60" height="38.50" fill="#D7000F"/>
<rect x="481.37" y="326.10" width="16.60" height="39.20" fill="#D26414"/>
<rect x="481.37" y="365.00" width="16.60" height="1.30" fill="#8CC36E"/>
<rect x="481.37" y="366.00" width="16.60" height="1.70" fill="#00AFC8"/>
<rect x="481.37" y="367.40" width="16.60" height="9.00" fill="#C89600"/>
<rect x="481.37" y="376.10" width="16.60" height="7.30" fill="#00AFC8"/>
<rect x="481.37" y="383.10" width="16.60" height="5.30" fill="#6496C8"/>
<rect x="481.37" y="388.10" width="16.60" height="7.40" fill="#B4C3D7"/>
<rect x="481.37" y="395.20" width="16.60" height="4.40" fill="#32649B"/>
<rect x="481.37" y="399.30" width="16.60" height="12.90" fill="#7D96AF"/>
<rect x="481.37" y="411.90" width="16.60" height="2.70" fill="#B4B4B4"/>
<rect x="481.37" y="414.30" width="16.60" height="9.50" fill="#FFB4B4"/>
<rect x="481.37" y="423.50" width="16.60" height="7.80" fill="#808080"/>
<rect x="481.37" y="431.00" width="16.60" height="4.50" fill="#FF6478"/>
<rect x="481.37" y="435.20" width="16.60" height="17.40" fill="#231815"/>
<rect x="481.37" y="452.30" width="16.60" height="32.20" fill="#D7000F"/>
<rect x="506.13" y="260.90" width="16.60" height="51.30" fill="#D26414"/>
<rect x="506.13" y="311.90" width="16.60" height="3.00" fill="#327DC3"/>
<rect x="506.13" y="314.60" width="16.60" height="4.20" fill="#C89600"/>
<rect x="506.13" y="318.50" width="16.60" height="1.60" fill="#00AFC8"/>
<rect x="506.13" y="319.80" width="16.60" height="4.40" fill="#B4C3D7"/>
<rect x="506.13" y="323.90" width="16.60" height="4.00" fill="#32649B"/>
<rect x="506.13" y="327.60" width="16.60" height="4.00" fill="#7D96AF"/>
<rect x="506.13" y="331.30" width="16.60" height="4.00" fill="#B4B4B4"/>
<rect x="506.13" y="335.00" width="16.60" height="44.40" fill="#FFB4B4"/>
<rect x="506.13" y="379.10" width="16.60" height="1.90" fill="#808080"/>
<rect x="506.13" y="380.70" width="16.60" height="18.10" fill="#FF6478"/>
<rect x="506.13" y="398.50" width="16.60" height="23.60" fill="#231815"/>
<rect x="506.13" y="421.80" width="16.60" height="62.70" fill="#D7000F"/>
<rect x="530.89" y="301.50" width="16.60" height="51.80" fill="#D26414"/>
<rect x="530.89" y="353.00" width="16.60" height="7.30" fill="#327DC3"/>
<rect x="530.89" y="360.00" width="16.60" height="2.50" fill="#8CC36E"/>
<rect x="530.89" y="362.20" width="16.60" height="2.40" fill="#966400"/>
<rect x="530.89" y="364.30" width="16.60" height="4.30" fill="#00AFC8"/>
<rect x="530.89" y="368.30" width="16.60" height="2.60" fill="#6496C8"/>
<rect x="530.89" y="370.60" width="16.60" height="2.70" fill="#B4C3D7"/>
<rect x="530.89" y="373.00" width="16.60" height="7.70" fill="#32649B"/>
<rect x="530.89" y="380.40" width="16.60" height="4.90" fill="#7D96AF"/>
<rect x="530.89" y="385.00" width="16.60" height="4.40" fill="#B4B4B4"/>
<rect x="530.89" y="389.10" width="16.60" height="9.20" fill="#FFB4B4"/>
<rect x="530.89" y="398.00" width="16.60" height="12.40" fill="#808080"/>
<rect x="530.89" y="410.10" width="16.60" height="19.30" fill="#FF6478"/>
<rect x="530.89" y="429.10" width="16.60" height="27.30" fill="#231815"/>
<rect x="530.89" y="456.10" width="16.60" height="28.40" fill="#D7000F"/>
<rect x="555.65" y="340.20" width="16.60" height="38.10" fill="#D26414"/>
<rect x="555.65" y="378.00" width="16.60" height="3.60" fill="#8CC36E"/>
<rect x="555.65" y="381.30" width="16.60" height="2.10" fill="#6E91D2"/>
<rect x="555.65" y="383.10" width="16.60" height="5.30" fill="#FFC800"/>
<rect x="555.65" y="388.10" width="16.60" height="13.00" fill="#00AFC8"/>
<rect x="555.65" y="400.80" width="16.60" height="1.40" fill="#6496C8"/>
<rect x="555.65" y="401.90" width="16.60" height="8.50" fill="#32649B"/>
<rect x="555.65" y="410.10" width="16.60" height="8.70" fill="#B4B4B4"/>
<rect x="555.65" y="418.50" width="16.60" height="2.80" fill="#FFB4B4"/>
<rect x="555.65" y="421.00" width="16.60" height="5.30" fill="#808080"/>
<rect x="555.65" y="426.00" width="16.60" height="15.60" fill="#FF6478"/>
<rect x="555.65" y="441.30" width="16.60" height="24.40" fill="#231815"/>
<rect x="555.65" y="465.40" width="16.60" height="19.10" fill="#D7000F"/>
<rect x="580.41" y="349.30" width="16.60" height="41.20" fill="#D26414"/>
<rect x="580.41" y="390.20" width="16.60" height="5.20" fill="#327DC3"/>
<rect x="580.41" y="395.10" width="16.60" height="8.80" fill="#8CC36E"/>
<rect x="580.41" y="403.60" width="16.60" height="4.00" fill="#FFC800"/>
<rect x="580.41" y="407.30" width="16.60" height="1.60" fill="#C89600"/>
<rect x="580.41" y="408.60" width="16.60" height="4.60" fill="#00AFC8"/>
<rect x="580.41" y="412.90" width="16.60" height="3.50" fill="#6496C8"/>
<rect x="580.41" y="416.10" width="16.60" height="1.10" fill="#B4C3D7"/>
<rect x="580.41" y="416.90" width="16.60" height="4.60" fill="#32649B"/>
<rect x="580.41" y="421.20" width="16.60" height="3.10" fill="#7D96AF"/>
<rect x="580.41" y="424.00" width="16.60" height="3.60" fill="#FFB4B4"/>
<rect x="580.41" y="427.30" width="16.60" height="6.30" fill="#808080"/>
<rect x="580.41" y="433.30" width="16.60" height="28.10" fill="#231815"/>
<rect x="580.41" y="461.10" width="16.60" height="23.40" fill="#D7000F"/>
<rect x="605.17" y="327.40" width="16.60" height="41.60" fill="#D26414"/>
<rect x="605.17" y="368.70" width="16.60" height="4.60" fill="#327DC3"/>
<rect x="605.17" y="373.00" width="16.60" height="1.60" fill="#8CC36E"/>
<rect x="605.17" y="374.30" width="16.60" height="5.40" fill="#6E91D2"/>
<rect x="605.17" y="379.40" width="16.60" height="5.90" fill="#FFC800"/>
<rect x="605.17" y="385.00" width="16.60" height="14.70" fill="#00AFC8"/>
<rect x="605.17" y="399.40" width="16.60" height="5.20" fill="#6496C8"/>
<rect x="605.17" y="404.30" width="16.60" height="4.40" fill="#B4C3D7"/>
<rect x="605.17" y="408.40" width="16.60" height="3.50" fill="#32649B"/>
<rect x="605.17" y="411.60" width="16.60" height="1.70" fill="#7D96AF"/>
<rect x="605.17" y="413.00" width="16.60" height="2.10" fill="#32649B"/>
<rect x="605.17" y="414.80" width="16.60" height="8.40" fill="#808080"/>
<rect x="605.17" y="422.90" width="16.60" height="10.10" fill="#FF6478"/>
<rect x="605.17" y="432.70" width="16.60" height="31.20" fill="#231815"/>
<rect x="605.17" y="463.60" width="16.60" height="20.90" fill="#D7000F"/>
<rect x="629.93" y="330.90" width="16.60" height="23.80" fill="#D26414"/>
<rect x="629.93" y="354.40" width="16.60" height="1.60" fill="#8CC36E"/>
<rect x="629.93" y="355.70" width="16.60" height="5.50" fill="#6E91D2"/>
<rect x="629.93" y="360.90" width="16.60" height="4.40" fill="#FFC800"/>
<rect x="629.93" y="365.00" width="16.60" height="2.30" fill="#966400"/>
<rect x="629.93" y="367.00" width="16.60" height="7.60" fill="#00AFC8"/>
<rect x="629.93" y="374.30" width="16.60" height="6.90" fill="#6496C8"/>
<rect x="629.93" y="380.90" width="16.60" height="6.80" fill="#B4C3D7"/>
<rect x="629.93" y="387.40" width="16.60" height="2.00" fill="#32649B"/>
<rect x="629.93" y="389.10" width="16.60" height="6.30" fill="#7D96AF"/>
<rect x="629.93" y="395.10" width="16.60" height="5.60" fill="#002D64"/>
<rect x="629.93" y="400.40" width="16.60" height="7.20" fill="#B4B4B4"/>
<rect x="629.93" y="407.30" width="16.60" height="1.70" fill="#FFB4B4"/>
<rect x="629.93" y="408.70" width="16.60" height="13.30" fill="#808080"/>
<rect x="629.93" y="421.70" width="16.60" height="1.70" fill="#FF6478"/>
<rect x="629.93" y="423.10" width="16.60" height="26.90" fill="#231815"/>
<rect x="629.93" y="449.70" width="16.60" height="34.80" fill="#D7000F"/>
<rect x="654.69" y="341.10" width="16.60" height="50.20" fill="#D26414"/>
<rect x="654.69" y="391.00" width="16.60" height="1.40" fill="#327DC3"/>
<rect x="654.69" y="392.10" width="16.60" height="6.20" fill="#8CC36E"/>
<rect x="654.69" y="398.00" width="16.60" height="1.70" fill="#C89600"/>
<rect x="654.69" y="399.40" width="16.60" height="3.40" fill="#00AFC8"/>
<rect x="654.69" y="402.50" width="16.60" height="5.30" fill="#B4C3D7"/>
<rect x="654.69" y="407.50" width="16.60" height="2.50" fill="#32649B"/>
<rect x="654.69" y="409.70" width="16.60" height="7.40" fill="#7D96AF"/>
<rect x="654.69" y="416.80" width="16.60" height="2.70" fill="#002D64"/>
<rect x="654.69" y="419.20" width="16.60" height="3.00" fill="#B4B4B4"/>
<rect x="654.69" y="421.90" width="16.60" height="4.00" fill="#808080"/>
<rect x="654.69" y="425.60" width="16.60" height="54.90" fill="#231815"/>
<rect x="654.69" y="480.20" width="16.60" height="4.30" fill="#D7000F"/>
</g>
<g stroke="#C00A14" stroke-width="1.75" fill="none" stroke-linecap="round" stroke-linejoin="round">
<line x1="60.4" y1="205.9" x2="147.6" y2="205.9"/>
<polyline points="68.7,201.2 60.4,205.9 68.7,210.6"/>
<polyline points="139.3,201.2 147.6,205.9 139.3,210.6"/>
</g>
<g stroke="#C00A14" stroke-width="1.75" fill="none" stroke-linecap="round" stroke-linejoin="round">
<line x1="163.0" y1="245.2" x2="419.0" y2="244.7"/>
<polyline points="171.3,240.5 163.0,245.2 171.3,249.9"/>
<polyline points="410.7,240.0 419.0,244.7 410.7,249.4"/>
</g>
<g stroke="#C00A14" stroke-width="1.75" fill="none" stroke-linecap="round" stroke-linejoin="round">
<line x1="433.4" y1="302.3" x2="670.0" y2="301.2"/>
<polyline points="441.7,297.6 433.4,302.3 441.7,307.0"/>
<polyline points="661.7,296.5 670.0,301.2 661.7,305.9"/>
</g>
<g font-size="13.95" font-weight="bold" fill="#000" text-anchor="middle">
<text x="106.4" y="193">78.02GW/年</text>
<text x="289.8" y="232.3">61.38GW/年</text>
<text x="550.4" y="291.3">58.76GW/年</text>
</g>
<g stroke="#4d4d4d" stroke-width="0.8" fill="none">
<line x1="755.6" y1="127.8" x2="755.6" y2="254.7"/>
<line x1="752.6" y1="251.7" x2="1063.5" y2="251.7"/>
<line x1="752.6" y1="251.7" x2="755.6" y2="251.7"/>
<line x1="752.6" y1="231.0" x2="755.6" y2="231.0"/>
<line x1="752.6" y1="210.4" x2="755.6" y2="210.4"/>
<line x1="752.6" y1="189.8" x2="755.6" y2="189.8"/>
<line x1="752.6" y1="169.1" x2="755.6" y2="169.1"/>
<line x1="752.6" y1="148.4" x2="755.6" y2="148.4"/>
<line x1="752.6" y1="127.8" x2="755.6" y2="127.8"/>
<line x1="755.6" y1="251.7" x2="755.6" y2="254.7"/>
<line x1="769.0" y1="251.7" x2="769.0" y2="254.7"/>
<line x1="782.4" y1="251.7" x2="782.4" y2="254.7"/>
<line x1="795.8" y1="251.7" x2="795.8" y2="254.7"/>
<line x1="809.1" y1="251.7" x2="809.1" y2="254.7"/>
<line x1="822.5" y1="251.7" x2="822.5" y2="254.7"/>
<line x1="835.9" y1="251.7" x2="835.9" y2="254.7"/>
<line x1="849.3" y1="251.7" x2="849.3" y2="254.7"/>
<line x1="862.7" y1="251.7" x2="862.7" y2="254.7"/>
<line x1="876.1" y1="251.7" x2="876.1" y2="254.7"/>
<line x1="889.5" y1="251.7" x2="889.5" y2="254.7"/>
<line x1="902.8" y1="251.7" x2="902.8" y2="254.7"/>
<line x1="916.2" y1="251.7" x2="916.2" y2="254.7"/>
<line x1="929.6" y1="251.7" x2="929.6" y2="254.7"/>
<line x1="943.0" y1="251.7" x2="943.0" y2="254.7"/>
<line x1="956.4" y1="251.7" x2="956.4" y2="254.7"/>
<line x1="969.8" y1="251.7" x2="969.8" y2="254.7"/>
<line x1="983.1" y1="251.7" x2="983.1" y2="254.7"/>
<line x1="996.5" y1="251.7" x2="996.5" y2="254.7"/>
<line x1="1009.9" y1="251.7" x2="1009.9" y2="254.7"/>
<line x1="1023.3" y1="251.7" x2="1023.3" y2="254.7"/>
<line x1="1036.7" y1="251.7" x2="1036.7" y2="254.7"/>
<line x1="1050.1" y1="251.7" x2="1050.1" y2="254.7"/>
<line x1="1063.5" y1="251.7" x2="1063.5" y2="254.7"/>
</g>
<g font-size="10" fill="#262626">
<text x="746.8" y="255.1" text-anchor="end">0</text>
<text x="746.8" y="234.4" text-anchor="end">5</text>
<text x="746.8" y="213.8" text-anchor="end">10</text>
<text x="746.8" y="193.2" text-anchor="end">15</text>
<text x="746.8" y="172.5" text-anchor="end">20</text>
<text x="746.8" y="151.8" text-anchor="end">25</text>
<text x="746.8" y="131.2" text-anchor="end">30</text>
<text transform="translate(759.1,258.6) rotate(-90)" text-anchor="end">2000</text>
<text transform="translate(772.5,258.6) rotate(-90)" text-anchor="end">2001</text>
<text transform="translate(785.9,258.6) rotate(-90)" text-anchor="end">2002</text>
<text transform="translate(799.3,258.6) rotate(-90)" text-anchor="end">2003</text>
<text transform="translate(812.6,258.6) rotate(-90)" text-anchor="end">2004</text>
<text transform="translate(826.0,258.6) rotate(-90)" text-anchor="end">2005</text>
<text transform="translate(839.4,258.6) rotate(-90)" text-anchor="end">2006</text>
<text transform="translate(852.8,258.6) rotate(-90)" text-anchor="end">2007</text>
<text transform="translate(866.2,258.6) rotate(-90)" text-anchor="end">2008</text>
<text transform="translate(879.6,258.6) rotate(-90)" text-anchor="end">2009</text>
<text transform="translate(893.0,258.6) rotate(-90)" text-anchor="end">2010</text>
<text transform="translate(906.3,258.6) rotate(-90)" text-anchor="end">2011</text>
<text transform="translate(919.7,258.6) rotate(-90)" text-anchor="end">2012</text>
<text transform="translate(933.1,258.6) rotate(-90)" text-anchor="end">2013</text>
<text transform="translate(946.5,258.6) rotate(-90)" text-anchor="end">2014</text>
<text transform="translate(959.9,258.6) rotate(-90)" text-anchor="end">2015</text>
<text transform="translate(973.3,258.6) rotate(-90)" text-anchor="end">2016</text>
<text transform="translate(986.6,258.6) rotate(-90)" text-anchor="end">2017</text>
<text transform="translate(1000.0,258.6) rotate(-90)" text-anchor="end">2018</text>
<text transform="translate(1013.4,258.6) rotate(-90)" text-anchor="end">2019</text>
<text transform="translate(1026.8,258.6) rotate(-90)" text-anchor="end">2020</text>
<text transform="translate(1040.2,258.6) rotate(-90)" text-anchor="end">2021</text>
<text transform="translate(1053.6,258.6) rotate(-90)" text-anchor="end">2022</text>
<text transform="translate(1067.0,258.6) rotate(-90)" text-anchor="end">2023</text>
</g>
<polyline points="755.6,232.5 769.0,232.5 782.4,234.1 795.8,232.1 809.1,230.8 822.5,228.0 835.9,224.3 849.3,221.0 862.7,201.4 876.1,215.3 889.5,208.8 902.8,192.4 916.2,185.2 929.6,187.5 943.0,186.7 956.4,210.8 969.8,223.9 983.1,219.0 996.5,211.2 1009.9,211.6 1023.3,220.2 1036.7,210.8 1050.1,181.8 1063.5,197.3" fill="none" stroke="#D7000F" stroke-width="1.9" stroke-linejoin="round" stroke-linecap="round"/>
<polyline points="755.6,241.2 769.0,238.7 782.4,242.3 795.8,238.0 809.1,233.7 822.5,222.5 835.9,221.0 849.3,227.2 862.7,207.9 876.1,232.1 889.5,225.5 902.8,215.1 916.2,213.0 929.6,208.3 943.0,218.2 956.4,225.1 969.8,232.5 983.1,228.2 996.5,219.0 1009.9,233.3 1023.3,238.2 1036.7,185.4 1050.1,149.9 1063.5,201.2" fill="none" stroke="#231815" stroke-width="1.9" stroke-linejoin="round" stroke-linecap="round"/>
<polyline points="755.6,234.2 769.0,235.1 782.4,238.0 795.8,228.9 809.1,227.6 822.5,215.4 835.9,223.7 849.3,223.7 862.7,215.4 876.1,235.5 889.5,233.7 902.8,235.7 916.2,240.3 929.6,236.6 943.0,233.3 956.4,240.8 969.8,240.7 983.1,240.0 996.5,239.4 1009.9,241.5 1023.3,243.3 1036.7,236.4 1050.1,225.1 1063.5,241.5" fill="none" stroke="#FF6478" stroke-width="1.9" stroke-linejoin="round" stroke-linecap="round"/>
<rect x="1032.7" y="135.6" width="38.1" height="106.7" fill="none" stroke="#C8141E" stroke-width="1.1" stroke-dasharray="4 3"/>
<g font-size="10" font-weight="500" fill="#111">
<line x1="752.0" y1="105" x2="776.0" y2="105" stroke="#D7000F" stroke-width="1.9"/>
<text x="779.2" y="108.6">日本LNG价</text>
<line x1="836.0" y1="105" x2="860.0" y2="105" stroke="#231815" stroke-width="1.9"/>
<text x="863.7" y="108.6">英国天然气价</text>
<line x1="929.5" y1="105" x2="954.5" y2="105" stroke="#FF6478" stroke-width="1.9"/>
<text x="957.5" y="108.6">美国亨利港口天然气价</text>
</g>
<g font-size="10" font-weight="500" fill="#111">
<rect x="823.6" y="329.3" width="5.2" height="5.2" fill="#D7000F"/>
<text x="831.3" y="335.6">规划公告</text>
<rect x="881.0" y="329.3" width="5.2" height="5.2" fill="#231815"/>
<text x="888.5" y="335.6">施工前准备</text>
<rect x="949.6" y="329.3" width="5.2" height="5.2" fill="#FF6478"/>
<text x="956.2" y="335.6">在建中</text>
</g>
<g stroke="#4d4d4d" stroke-width="0.8" fill="none">
<line x1="775.5" y1="354.9" x2="775.5" y2="435.6"/>
<line x1="772.5" y1="432.6" x2="1064.8" y2="432.6"/>
<line x1="772.5" y1="432.6" x2="775.5" y2="432.6"/>
<line x1="772.5" y1="417.1" x2="775.5" y2="417.1"/>
<line x1="772.5" y1="401.5" x2="775.5" y2="401.5"/>
<line x1="772.5" y1="386.0" x2="775.5" y2="386.0"/>
<line x1="772.5" y1="370.4" x2="775.5" y2="370.4"/>
<line x1="772.5" y1="354.9" x2="775.5" y2="354.9"/>
<line x1="775.5" y1="432.6" x2="775.5" y2="435.6"/>
<line x1="804.4" y1="432.6" x2="804.4" y2="435.6"/>
<line x1="833.4" y1="432.6" x2="833.4" y2="435.6"/>
<line x1="862.3" y1="432.6" x2="862.3" y2="435.6"/>
<line x1="891.2" y1="432.6" x2="891.2" y2="435.6"/>
<line x1="920.1" y1="432.6" x2="920.1" y2="435.6"/>
<line x1="949.1" y1="432.6" x2="949.1" y2="435.6"/>
<line x1="978.0" y1="432.6" x2="978.0" y2="435.6"/>
<line x1="1006.9" y1="432.6" x2="1006.9" y2="435.6"/>
<line x1="1035.9" y1="432.6" x2="1035.9" y2="435.6"/>
<line x1="1064.8" y1="432.6" x2="1064.8" y2="435.6"/>
</g>
<g font-size="9.6" fill="#262626">
<text x="764" y="436.0" text-anchor="end">0</text>
<text x="764" y="420.5" text-anchor="end">10000</text>
<text x="764" y="404.9" text-anchor="end">20000</text>
<text x="764" y="389.4" text-anchor="end">30000</text>
<text x="764" y="373.8" text-anchor="end">40000</text>
<text x="764" y="358.3" text-anchor="end">50000</text>
</g>
<rect x="780.42" y="366.32" width="19.1" height="16.02" fill="#FF6478"/>
<rect x="780.42" y="382.14" width="19.1" height="43.25" fill="#231815"/>
<rect x="780.42" y="425.19" width="19.1" height="7.41" fill="#D7000F"/>
<rect x="809.35" y="415.79" width="19.1" height="13.41" fill="#FF6478"/>
<rect x="809.35" y="428.99" width="19.1" height="2.20" fill="#231815"/>
<rect x="809.35" y="431.00" width="19.1" height="1.60" fill="#D7000F"/>
<rect x="838.28" y="419.98" width="19.1" height="6.80" fill="#FF6478"/>
<rect x="838.28" y="426.59" width="19.1" height="4.82" fill="#231815"/>
<rect x="838.28" y="431.20" width="19.1" height="1.40" fill="#D7000F"/>
<rect x="867.21" y="423.99" width="19.1" height="3.40" fill="#FF6478"/>
<rect x="867.21" y="427.19" width="19.1" height="4.83" fill="#231815"/>
<rect x="867.21" y="431.82" width="19.1" height="0.78" fill="#D7000F"/>
<rect x="896.13" y="424.21" width="19.1" height="0.82" fill="#FF6478"/>
<rect x="896.13" y="424.83" width="19.1" height="7.74" fill="#231815"/>
<rect x="896.13" y="432.37" width="19.1" height="0.23" fill="#D7000F"/>
<rect x="925.07" y="424.79" width="19.1" height="4.00" fill="#FF6478"/>
<rect x="925.07" y="428.59" width="19.1" height="3.60" fill="#231815"/>
<rect x="925.07" y="431.99" width="19.1" height="0.61" fill="#D7000F"/>
<rect x="954.00" y="430.80" width="19.1" height="0.53" fill="#FF6478"/>
<rect x="954.00" y="431.12" width="19.1" height="1.37" fill="#231815"/>
<rect x="954.00" y="432.29" width="19.1" height="0.31" fill="#D7000F"/>
<rect x="982.93" y="431.40" width="19.1" height="1.16" fill="#FF6478"/>
<rect x="982.93" y="432.37" width="19.1" height="0.31" fill="#231815"/>
<rect x="982.93" y="432.48" width="19.1" height="0.12" fill="#D7000F"/>
<rect x="1011.86" y="431.82" width="19.1" height="0.32" fill="#FF6478"/>
<rect x="1011.86" y="431.95" width="19.1" height="0.77" fill="#231815"/>
<rect x="1011.86" y="432.52" width="19.1" height="0.08" fill="#D7000F"/>
<rect x="1040.79" y="403.76" width="19.1" height="15.23" fill="#FF6478"/>
<rect x="1040.79" y="418.78" width="19.1" height="9.61" fill="#231815"/>
<rect x="1040.79" y="428.19" width="19.1" height="4.41" fill="#D7000F"/>
<g font-size="10.7" font-weight="500" fill="#111">
<text transform="translate(793.4,447.6) rotate(-45)" text-anchor="end">化工</text>
<text transform="translate(822.3,447.6) rotate(-45)" text-anchor="end">石油</text>
<text transform="translate(851.2,447.6) rotate(-45)" text-anchor="end">钢铁</text>
<text transform="translate(880.2,447.6) rotate(-45)" text-anchor="end">铝业</text>
<text transform="translate(909.1,447.6) rotate(-45)" text-anchor="end">数据中心</text>
<text transform="translate(938.0,447.6) rotate(-45)" text-anchor="end">其他金属及采矿</text>
<text transform="translate(966.9,447.6) rotate(-45)" text-anchor="end">造纸</text>
<text transform="translate(995.9,447.6) rotate(-45)" text-anchor="end">机械</text>
<text transform="translate(1024.8,447.6) rotate(-45)" text-anchor="end">煤炭</text>
<text transform="translate(1053.7,447.6) rotate(-45)" text-anchor="end">其他</text>
</g>
</svg>
</body></html>
